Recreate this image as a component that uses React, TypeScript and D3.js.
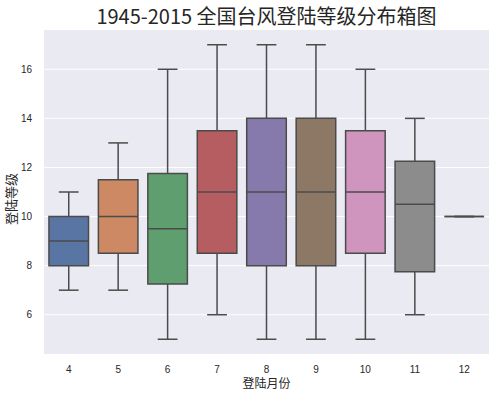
import React from "react";
import * as d3 from "d3";

const months = ["4", "5", "6", "7", "8", "9", "10", "11", "12"];
const whiskerLow = [7, 7, 5, 6, 5, 5, 5, 6, 10];
const q1 = [8, 8.5, 7.25, 8.5, 8, 8, 8.5, 7.75, 10];
const medians = [9, 10, 9.5, 11, 11, 11, 11, 10.5, 10];
const q3 = [10, 11.5, 11.75, 13.5, 14, 14, 13.5, 12.25, 10];
const whiskerHigh = [11, 13, 16, 17, 17, 17, 16, 14, 10];
const yTicks = [6, 8, 10, 12, 14, 16];
const boxColors = ["#5975a4", "#cc8963", "#5f9e6e", "#b55d60", "#857aab", "#8d7866", "#d095bf", "#8c8c8c", "#c1b37f"];

const W = 496;
const H = 395;
const margin = { left: 44, right: 7, top: 30, bottom: 41 };
const lineColor = "#4b4b4b";
const cjk = "'Noto Sans CJK SC', sans-serif";
const latin = "'Liberation Sans', Arial, sans-serif";

export default function App() {
  const x = d3.scaleBand().domain(months).range([margin.left, W - margin.right]).paddingInner(0).paddingOuter(0);
  const y = d3.scaleLinear().domain([4.4, 17.6]).range([H - margin.bottom, margin.top]);
  const bw = x.bandwidth() * 0.8;
  const capW = bw / 2;

  return (
    <svg width={W} height={H} style={{ position: "absolute", left: 0, top: 0, background: "#fff" }}>
      <rect x={margin.left} y={margin.top} width={W - margin.left - margin.right} height={H - margin.top - margin.bottom} fill="#eaeaf2" />
      {yTicks.map(t => (
        <g key={t}>
          <line x1={margin.left} x2={W - margin.right} y1={y(t)} y2={y(t)} stroke="#fff" strokeWidth={1} />
          <text x={margin.left - 12} y={y(t)} dy="0.35em" textAnchor="end" fontSize={10} fontFamily={latin} fill="#262626">{t}</text>
        </g>
      ))}
      {months.map((m, i) => {
        const cx = (x(m) as number) + x.bandwidth() / 2;
        const x0 = cx - bw / 2;
        const x1 = cx + bw / 2;
        const boxPath = `M${x0},${y(q1[i])}L${x1},${y(q1[i])}L${x1},${y(q3[i])}L${x0},${y(q3[i])}Z`;
        return (
          <g key={m}>
            <line x1={cx} x2={cx} y1={y(whiskerLow[i])} y2={y(q1[i])} stroke={lineColor} strokeWidth={1.5} />
            <line x1={cx} x2={cx} y1={y(q3[i])} y2={y(whiskerHigh[i])} stroke={lineColor} strokeWidth={1.5} />
            <line x1={cx - capW / 2} x2={cx + capW / 2} y1={y(whiskerLow[i])} y2={y(whiskerLow[i])} stroke={lineColor} strokeWidth={1.5} />
            <line x1={cx - capW / 2} x2={cx + capW / 2} y1={y(whiskerHigh[i])} y2={y(whiskerHigh[i])} stroke={lineColor} strokeWidth={1.5} />
            <path d={boxPath} fill={boxColors[i]} stroke={lineColor} strokeWidth={1.5} />
            <line x1={x0} x2={x1} y1={y(medians[i])} y2={y(medians[i])} stroke={lineColor} strokeWidth={1.5} />
            <text x={cx} y={H - margin.bottom + 15} dy="0.35em" textAnchor="middle" fontSize={10} fontFamily={latin} fill="#262626">{m}</text>
          </g>
        );
      })}
      <text x={(margin.left + W - margin.right) / 2} y={384} dy="0.35em" textAnchor="middle" fontSize={12} fontFamily={cjk} fill="#262626">登陆月份</text>
      <text transform={`translate(11,199) rotate(-90)`} dy="0.35em" textAnchor="middle" fontSize={13} fontFamily={cjk} fill="#262626">登陆等级</text>
      <text x={(margin.left + W - margin.right) / 2} y={17} dy="0.35em" textAnchor="middle" fontSize={20} fontFamily={cjk} fill="#262626">1945-2015 全国台风登陆等级分布箱图</text>
    </svg>
  );
}
